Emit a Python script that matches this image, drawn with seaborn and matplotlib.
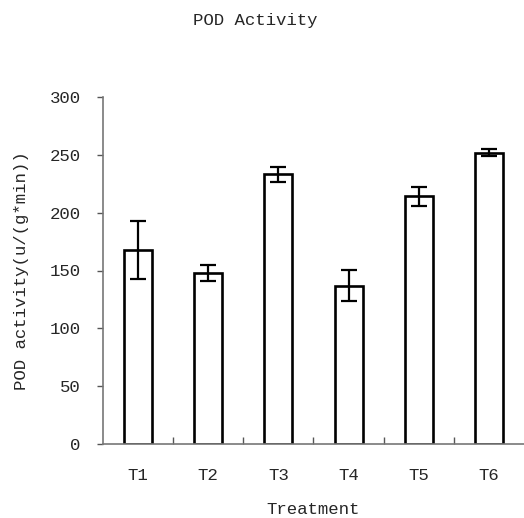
import matplotlib
matplotlib.use("Agg")
import matplotlib.pyplot as plt
import seaborn as sns
import pandas as pd
from matplotlib.ticker import FixedLocator

categories = ["T1", "T2", "T3", "T4", "T5", "T6"]
values = [168, 148, 233, 137, 214, 252]
errors = [25, 7, 6.5, 13.5, 8, 3]
yticks = [0, 50, 100, 150, 200, 250, 300]

sns.set_style("white")
plt.rcParams['font.family'] = ['Liberation Mono', 'DejaVu Sans Mono']

df = pd.DataFrame({"Treatment": categories, "POD": values})

fig = plt.figure(figsize=(5.24, 5.18), dpi=100)
ax = fig.add_axes([103/524, 74/518, 421/524, 347/518])

sns.barplot(data=df, x="Treatment", y="POD", ax=ax, color="white",
            edgecolor="black", linewidth=1.9, width=0.4, errorbar=None,
            order=categories)
ax.errorbar(categories, values, yerr=errors, fmt="none", ecolor="black",
            elinewidth=1.6, capsize=6, capthick=1.6)

fs = 12.5
ax.set_xlim(-0.5, 5.5)
ax.set_ylim(0, 300)
ax.set_yticks(yticks)
ax.set_yticklabels([str(t) for t in yticks], fontsize=fs)
ax.tick_params(axis="y", direction="out", length=4, width=1, color="#555555",
               left=True, pad=12)
ax.tick_params(axis="x", which="major", length=0, pad=17, labelsize=fs)
ax.xaxis.set_minor_locator(FixedLocator([0.5, 1.5, 2.5, 3.5, 4.5]))
ax.tick_params(axis="x", which="minor", direction="in", length=5, width=1,
               color="#555555", bottom=True)

for s in ["top", "right"]:
    ax.spines[s].set_visible(False)
for s in ["left", "bottom"]:
    ax.spines[s].set_color("#777777")
    ax.spines[s].set_linewidth(1.2)

ax.set_xlabel("Treatment", fontsize=fs, labelpad=14)
ax.set_ylabel("POD activity(u/(g*min))", fontsize=fs, labelpad=15)
fig.text(255/524, 1 - 20/518, "POD Activity", ha="center", va="center",
         fontsize=fs)

fig.savefig("out.png", dpi=100)
